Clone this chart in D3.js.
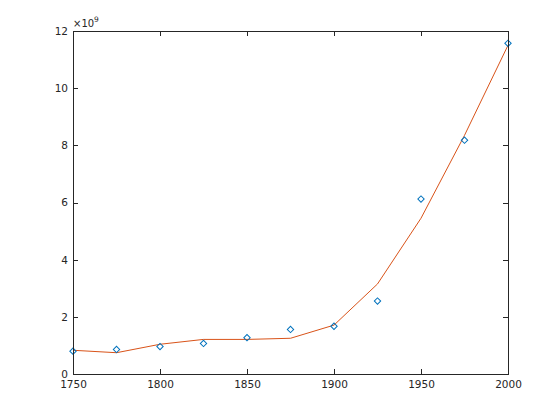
<!DOCTYPE html>
<html><head><meta charset="utf-8">
<script src="https://cdn.jsdelivr.net/npm/d3@7"></script>
<style>body{margin:0;background:#fff}svg{display:block}text{font-family:"DejaVu Sans",sans-serif;}</style>
</head><body><svg id="c" width="560" height="420"></svg>
<script>
const years = [1750,1775,1800,1825,1850,1875,1900,1925,1950,1975,2000];
const population = [0.80,0.86,0.96,1.07,1.27,1.56,1.67,2.55,6.12,8.18,11.57]; // x 1e9
const fitValues = [0.83,0.745,1.04,1.21,1.21,1.25,1.71,3.15,5.45,8.35,11.5]; // x 1e9
const xTicks = [1750,1800,1850,1900,1950,2000];
const yTicks = [0,2,4,6,8,10,12];

const svg = d3.select("#c");
const L=73, R=508, T=31, B=374;
const x = d3.scaleLinear().domain([1750,2000]).range([L,R]);
const y = d3.scaleLinear().domain([0,12]).range([B,T]);
const axCol = "#262626";

// Fit line
svg.append("path").datum(years.map((d,i)=>[d,fitValues[i]]))
  .attr("d", d3.line().x(d=>x(d[0])).y(d=>y(d[1])))
  .attr("fill","none").attr("stroke","#D95319").attr("stroke-width",1);

// Markers (diamonds)
svg.selectAll("path.pt").data(years.map((d,i)=>[d,population[i]])).enter()
  .append("path").attr("class","pt")
  .attr("d", d3.symbol().type(d3.symbolSquare2).size(26))
  .attr("transform", d=>`translate(${x(d[0])},${y(d[1])}) rotate(45)`)
  .attr("fill","none").attr("stroke","#0072BD").attr("stroke-width",1);

// Axes box
const g = svg.append("g").attr("shape-rendering","crispEdges");
const tl = 5;
const xb = d3.axisBottom(x).tickValues(xTicks).tickSizeInner(-tl).tickSizeOuter(0).tickPadding(7).tickFormat(d3.format("d"));
const xt = d3.axisTop(x).tickValues(xTicks).tickSizeInner(-tl).tickSizeOuter(0).tickFormat("");
const yl = d3.axisLeft(y).tickValues(yTicks).tickSizeInner(-tl).tickSizeOuter(0).tickPadding(5).tickFormat(d3.format("d"));
const yr = d3.axisRight(y).tickValues(yTicks).tickSizeInner(-tl).tickSizeOuter(0).tickFormat("");
function style(sel){
  sel.selectAll("path,line").attr("stroke",axCol);
  sel.selectAll("text").attr("fill",axCol).style("font-size","10.5px").style("font-family","DejaVu Sans, sans-serif");
}
g.append("g").attr("transform",`translate(0,${B})`).call(xb).call(style);
g.append("g").attr("transform",`translate(0,${T})`).call(xt).call(style);
g.append("g").attr("transform",`translate(${L},0)`).call(yl).call(style);
g.append("g").attr("transform",`translate(${R},0)`).call(yr).call(style);

// Exponent label
const ex = svg.append("text").attr("x",L).attr("y",T-4).attr("fill",axCol).style("font-size","10px");
ex.append("tspan").text("\u00d710");
ex.append("tspan").attr("dy",-5).style("font-size","7.5px").text("9");
</script></body></html>
